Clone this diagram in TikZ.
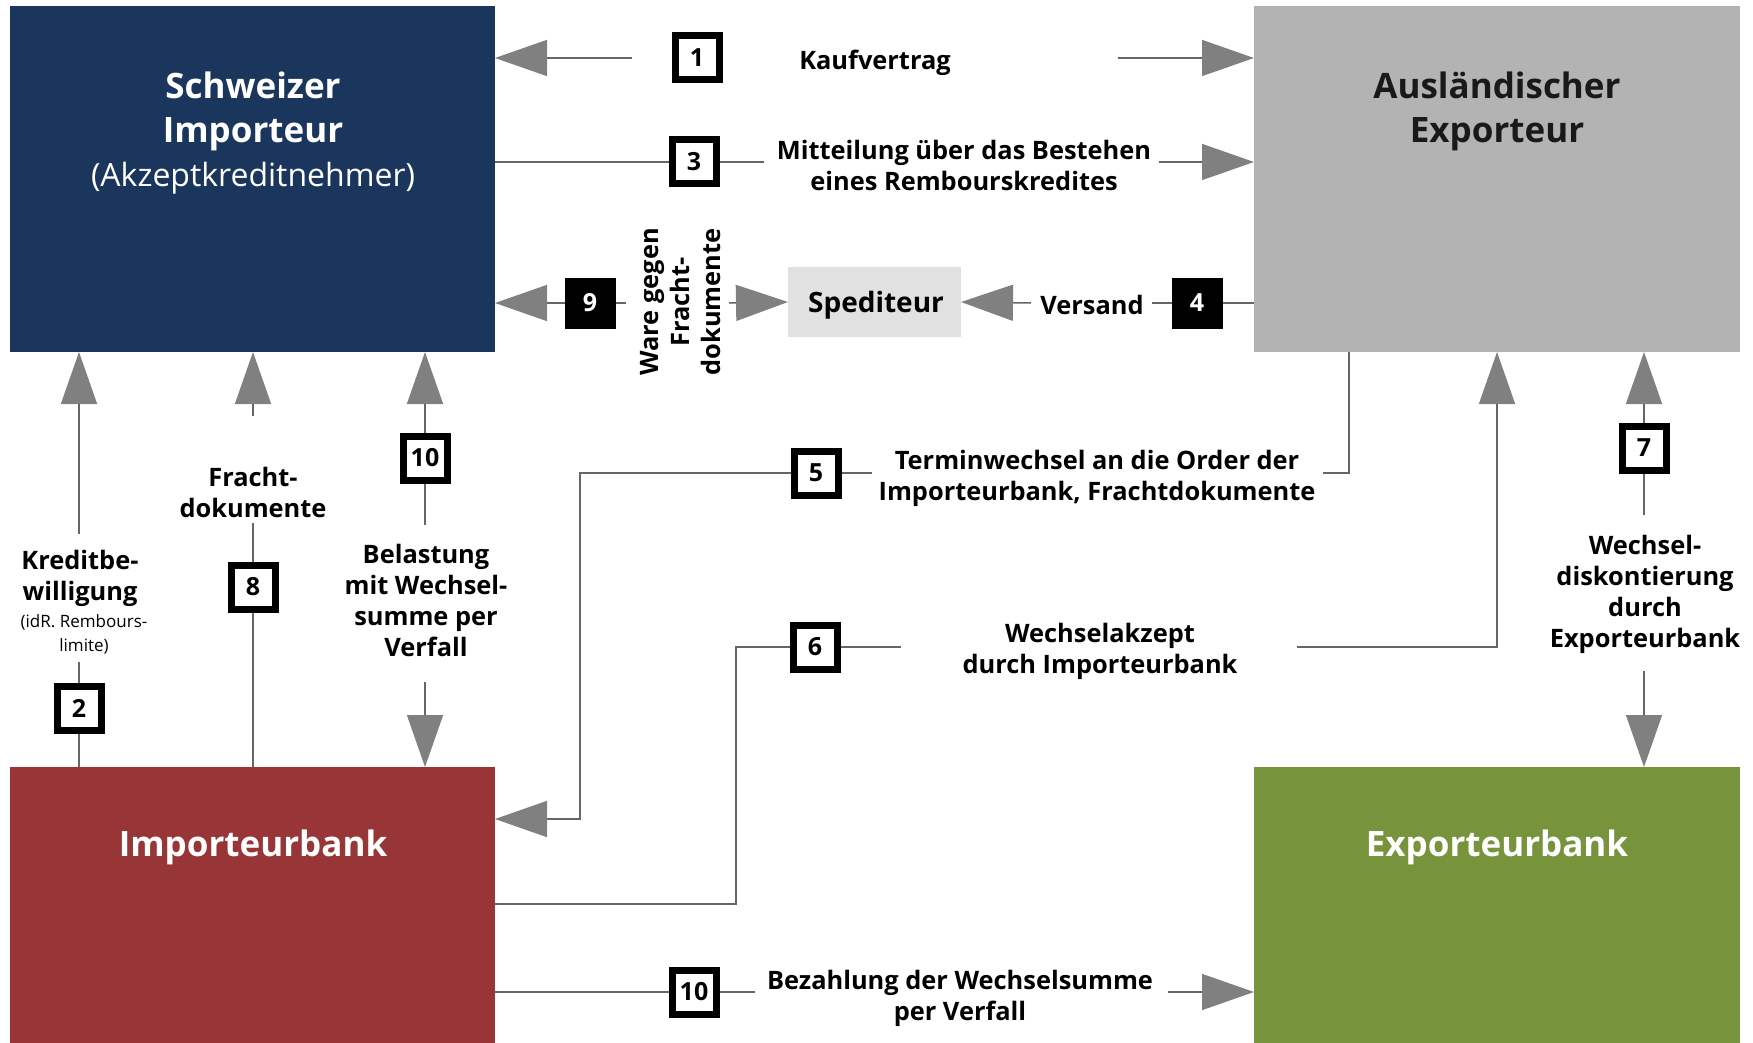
\documentclass[tikz,border=0pt]{standalone}
\usepackage{fontspec}
\setmainfont{Open Sans}
\usetikzlibrary{arrows.meta}
\definecolor{siblue}{HTML}{1B365D}
\definecolor{aegray}{HTML}{B3B3B3}
\definecolor{ibred}{HTML}{983536}
\definecolor{ebgreen}{HTML}{77933C}
\definecolor{spgray}{HTML}{E1E1E1}
\definecolor{arrowgray}{HTML}{808080}
\definecolor{linegray}{HTML}{666666}
\tikzset{
  bigbox/.style={draw=none, inner sep=0, outer sep=0},
  numbox/.style={draw=black, line width=7pt, fill=white, minimum size=44pt, inner sep=0,
    font=\bfseries\fontsize{25}{28}\selectfont},
  blackbox/.style={fill=black, text=white, minimum size=51pt, inner sep=0, outer sep=0,
    font=\bfseries\fontsize{25}{28}\selectfont},
  conn/.style={draw=linegray, line width=1.5pt},
  arr/.style={conn, -{Triangle[length=52pt,width=36pt,color=arrowgray]}},
  lbl/.style={font=\bfseries\fontsize{25.4}{31}\selectfont, align=center, inner sep=0},
  smalllbl/.style={font=\fontsize{17}{24}\selectfont, align=center, inner sep=0},
  title/.style={font=\bfseries\fontsize{35}{44}\selectfont, align=center, inner sep=0},
}
\begin{document}
\begin{tikzpicture}[x=1pt,y=-1pt]
\useasboundingbox (0,0) rectangle (1753,1043);
% main boxes
\node[bigbox, fill=siblue, minimum width=485pt, minimum height=346pt] (SI) at (252.5,179) {};
\node[bigbox, fill=aegray, minimum width=486pt, minimum height=346pt] (AE) at (1497,179) {};
\node[bigbox, fill=ibred, minimum width=485pt, minimum height=276pt] (IB) at (252.5,905) {};
\node[bigbox, fill=ebgreen, minimum width=486pt, minimum height=276pt] (EB) at (1497,905) {};
\node[bigbox, fill=spgray, minimum width=173pt, minimum height=70pt] (SP) at (874.5,302) {};
\node[inner sep=0, font=\bfseries\fontsize{28}{32}\selectfont] (SPt) at (876,305) {Spediteur};
\node[title, text=white] (SIt) at (253,133) {Schweizer\\Importeur\\{\mdseries\fontsize{32}{44}\selectfont(Akzeptkreditnehmer)}};
\node[title, text=black!90] (AEt) at (1497,111) {Ausländischer\\Exporteur};
\node[title, text=white] (IBt) at (253,847) {Importeurbank};
\node[title, text=white] (EBt) at (1497,847) {Exporteurbank};

% row 1
\node[numbox] (n1) at (697,58) {1};
\node[lbl] (t1) at (875,63) {Kaufvertrag};
\coordinate (r1a) at (632,58);
\coordinate (r1b) at (1118,58);
\draw[arr] (r1a) -- (r1a -| SI.east);
\draw[arr] (r1b) -- (r1b -| AE.west);

% row 2
\node[numbox] (n3) at (694,162) {3};
\node[lbl] (t3) at (964,165) {Mitteilung über das Bestehen\\eines Rembourskredites};
\coordinate (r2a) at (764,162);
\coordinate (r2b) at (1159,162);
\draw[conn] (n3 -| SI.east) -- (n3);
\draw[conn] (n3) -- (r2a);
\draw[arr] (r2b) -- (r2b -| AE.west);

% row 3
\node[blackbox] (n9) at (590,303) {9};
\node[lbl, rotate=90] (t9) at (681,302) {Ware gegen\\Fracht-\\dokumente};
\node[lbl] (t4) at (1092,305) {Versand};
\node[blackbox] (n4) at (1197,303) {4};
\coordinate (r3a) at (626,303);
\coordinate (r3b) at (729,303);
\coordinate (r3c) at (1031,303);
\coordinate (r3d) at (1152,303);
\draw[arr] (n9) -- (n9 -| SI.east);
\draw[conn] (n9) -- (r3a);
\draw[arr] (r3b) -- (SP.west);
\draw[arr] (r3c) -- (SP.east);
\draw[conn] (r3d) -- (n4);
\draw[conn] (n4) -- (n4 -| AE.west);

% vertical 2
\coordinate (v2a) at (79,534);
\node[lbl] (t2) at (80,578) {Kreditbe-\\willigung};
\node[smalllbl] (t2s) at (84,634) {(idR. Rembours-\\limite)};
\coordinate (v2b) at (79,662);
\node[numbox] (n2) at (79,708) {2};
\draw[arr] (v2a) -- (v2a |- SI.south);
\draw[conn] (v2b) -- (n2);
\draw[conn] (n2) -- (n2 |- IB.north);

% vertical 8
\coordinate (v8a) at (253,416);
\node[lbl] (t8) at (253,492) {Fracht-\\dokumente};
\coordinate (v8b) at (253,523);
\node[numbox] (n8) at (253,587) {8};
\draw[arr] (v8a) -- (v8a |- SI.south);
\draw[conn] (v8b) -- (n8);
\draw[conn] (n8) -- (n8 |- IB.north);

% vertical 10
\node[numbox] (n10a) at (425,458) {10};
\coordinate (v10a) at (425,525);
\node[lbl] (t10a) at (426,600) {Belastung\\mit Wechsel-\\summe per\\Verfall};
\coordinate (v10b) at (425,682);
\draw[arr] (n10a) -- (n10a |- SI.south);
\draw[conn] (n10a) -- (v10a);
\draw[arr] (v10b) -- (v10b |- IB.north);

% vertical 7
\node[numbox] (n7) at (1644,448) {7};
\coordinate (v7a) at (1644,515);
\node[lbl] (t7) at (1645,594) {Wechsel-\\diskontierung\\durch\\Exporteurbank};
\coordinate (v7b) at (1644,671);
\draw[arr] (n7) -- (n7 |- AE.south);
\draw[conn] (n7) -- (v7a);
\draw[arr] (v7b) -- (v7b |- EB.north);

% connector 5
\coordinate (c5x) at (1349,473);
\coordinate (c5e) at (1323,473);
\node[lbl] (t5) at (1097,478) {Terminwechsel an die Order der\\Importeurbank, Frachtdokumente};
\coordinate (c5f) at (872,473);
\node[numbox] (n5) at (816,473) {5};
\coordinate (c5k) at (580,819);
\draw[conn] (c5x |- AE.south) -- (c5x) -- (c5e);
\draw[conn] (c5f) -- (n5);
\draw[arr] (n5.west) -| (c5k) -- (c5k -| IB.east);

% connector 6
\coordinate (c6k) at (736,904);
\node[numbox] (n6) at (815,647) {6};
\coordinate (c6f) at (901,647);
\node[lbl] (t6) at (1100,651) {Wechselakzept\\durch Importeurbank};
\coordinate (c6g) at (1297,647);
\coordinate (c6x) at (1497,647);
\draw[conn] (c6k -| IB.east) -- (c6k) |- (n6.west);
\draw[conn] (n6) -- (c6f);
\draw[arr] (c6g) -- (c6x) -- (c6x |- AE.south);

% bottom 10
\node[numbox] (n10b) at (694,992) {10};
\coordinate (b10a) at (755,992);
\node[lbl] (t10b) at (960,998) {Bezahlung der Wechselsumme\\per Verfall};
\coordinate (b10b) at (1168,992);
\draw[conn] (n10b -| IB.east) -- (n10b);
\draw[conn] (n10b) -- (b10a);
\draw[arr] (b10b) -- (b10b -| EB.west);
\end{tikzpicture}
\end{document}
